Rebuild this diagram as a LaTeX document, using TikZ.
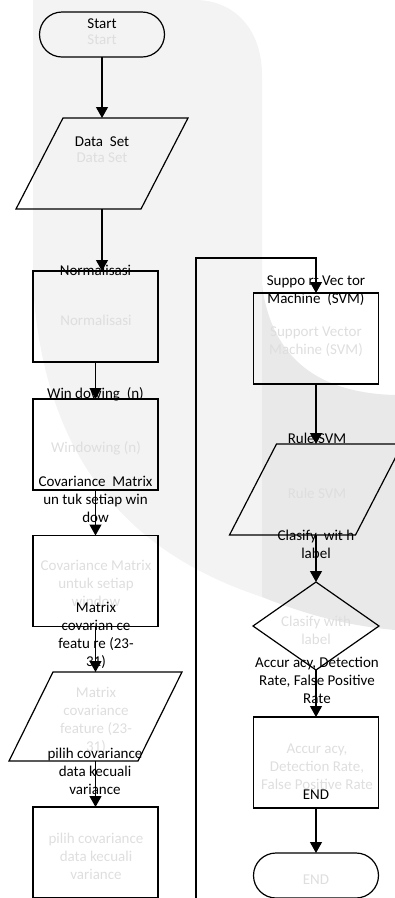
\documentclass[tikz,border=0pt]{standalone}
\usepackage{fontspec}
\setmainfont{Carlito}
\usetikzlibrary{arrows.meta,shapes.geometric}
\definecolor{wmlight}{RGB}{243,243,243}
\definecolor{wmdark}{RGB}{233,233,233}
\definecolor{faint}{RGB}{222,222,222}
\begin{document}
\begin{tikzpicture}[x=1pt,y=-1pt,
  every node/.style={font=\fontsize{15}{18}\selectfont},
  procbox/.style={draw, line width=1.2pt, minimum width=125pt, minimum height=91pt, inner sep=0pt, outer sep=0pt},
  termbox/.style={draw, line width=1.2pt, rounded corners=22.5pt, minimum width=125pt, minimum height=45pt, inner sep=0pt, outer sep=0pt},
  ioframe/.style={minimum width=172pt, minimum height=91pt, inner sep=0pt, outer sep=0pt},
  iodraw/.style={line width=1.2pt, line join=miter},
  decbox/.style={draw, diamond, line width=1.2pt, minimum width=126pt, minimum height=88pt, inner sep=0pt, outer sep=0pt},
  lbl/.style={align=center, inner sep=0pt, text=black},
  ghost/.style={align=center, inner sep=0pt, text=faint},
  flow/.style={-{Triangle[width=12pt,length=11pt]}, line width=1.2pt},
  wire/.style={line width=1.2pt}
]
\path[use as bounding box] (0,0) rectangle (395,898);
\clip (0,0) rectangle (395,898);

% watermark
\fill[wmlight] (33,0) -- (195,0) .. controls (235,0) and (262,30) .. (262,75)
  -- (262,597) .. controls (150,560) and (45,480) .. (33,285) -- cycle;
\fill[wmdark] (262,285) .. controls (272,360) and (320,393) .. (395,395)
  -- (395,630) .. controls (340,625) and (300,612) .. (262,597) -- cycle;

% faint duplicate texts
\node[ghost] (gstart) at (102,40) {Start};
\node[ghost] (gdata) at (102,158) {Data Set};
\node[ghost] (gnorm) at (96,320) {Normalisasi};
\node[ghost] (gwin) at (96,448) {Windowing (n)};
\node[ghost] (gcov) at (96,583.5) {Covariance Matrix\\untuk setiap\\window};
\node[ghost] (gmat) at (96,720.5) {Matrix\\covariance\\feature (23-\\31)};
\node[ghost] (gpil) at (96,856.5) {pilih covariance\\data kecuali\\variance};
\node[ghost] (gsvm) at (316,342) {Support Vector\\Machine (SVM)};
\node[ghost] (grule) at (317,493) {Rule SVM};
\node[ghost] (gcls) at (316,630) {Clasify with\\label};
\node[ghost] (gacc) at (317,767) {Accur acy,\\Detection Rate,\\False Positive Rate};
\node[ghost] (gend) at (316,880) {END};

% shapes
\node[termbox] (start) at (102,34.5) {};
\node[ioframe] (data) at (102,163.5) {};
\draw[iodraw] (data.south west) -- ++(125,0) -- (data.north east) -- ++(-125,0) -- cycle;
\node[procbox] (norm) at (95.5,316.5) {};
\node[procbox] (win) at (95.5,444.5) {};
\node[procbox] (cov) at (95.5,581) {};
\node[ioframe, minimum width=173pt, minimum height=89pt] (mat) at (95.5,716.5) {};
\draw[iodraw] (mat.south west) -- ++(129,0) -- (mat.north east) -- ++(-129,0) -- cycle;
\node[procbox] (pil) at (95.5,852.5) {};

\node[procbox] (svm) at (316,338.5) {};
\node[ioframe, minimum width=173pt] (rule) at (316,489.5) {};
\draw[iodraw] (rule.south west) -- ++(126,0) -- (rule.north east) -- ++(-126,0) -- cycle;
\node[decbox] (cls) at (316,626) {};
\node[procbox] (acc) at (316,762.5) {};
\node[termbox] (fin) at (316,875.5) {};

% black texts
\node[lbl] (tstart) at (102,23.5) {Start};
\node[lbl] (tdata) at (102,142) {Data~~Set};
\node[lbl] (tnorm) at (95.5,270) {Normalisasi};
\node[lbl] (twin) at (95.5,394) {Win dowing~~(n)};
\node[lbl] (tcov) at (95.5,499.5) {Covariance~~Matrix\\un tuk setiap win\\dow};
\node[lbl] (tmat) at (96,635) {Matrix\\covarian ce\\featu re (23-\\31)};
\node[lbl] (tpil) at (95,771.5) {pilih covariance\\data kecuali\\variance};
\node[lbl] (tsvm) at (316,291) {Suppo rt Vec tor\\Machine~~(SVM)};
\node[lbl] (trule) at (317,438) {Rule SVM};
\node[lbl] (tcls) at (316,544.5) {Clasify~~wit h\\label};
\node[lbl] (tacc) at (317,680.5) {Accur acy, Detection\\Rate, False Positive\\Rate};
\node[lbl] (tend) at (316,795) {END};

% connectors
\coordinate (cont) at (196,905);
\coordinate (turn) at (196,258);
\draw[flow] (start.south) -- (data.north);
\draw[flow] (data.south) -- (data.south |- norm.north);
\draw[flow] (norm.south) -- (win.north);
\draw[flow] (win.south) -- (cov.north);
\draw[flow] (cov.south) -- (mat.north);
\draw[flow] (mat.south) -- (pil.north);
\draw[flow] (cont) -- (turn) -| (svm.north);
\draw[flow] (svm.south) -- (rule.north);
\draw[flow] (rule.south) -- (cls.north);
\draw[flow] (cls.south) -- (acc.north);
\draw[flow] (acc.south) -- (fin.north);
\end{tikzpicture}
\end{document}
